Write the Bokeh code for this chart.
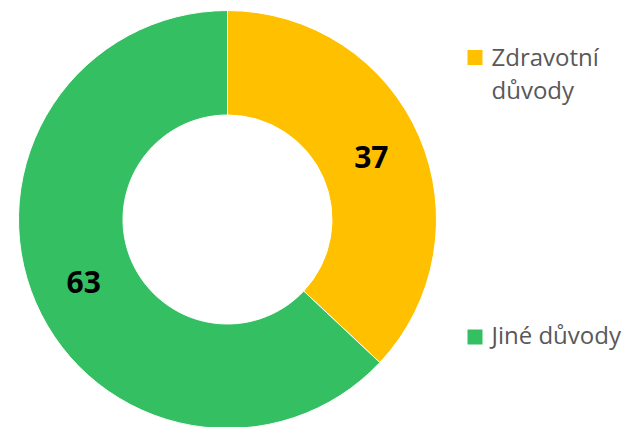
import math
from bokeh.plotting import figure
from bokeh.models import Range1d, ColumnDataSource
from bokeh.core.properties import value
from bokeh.embed import file_html
from bokeh.resources import INLINE

categories = ["Zdravotní důvody", "Jiné důvody"]
values = [37, 63]
colors = ["#FFC000", "#35BF63"]
legend_text = ["Zdravotní\ndůvody", "Jiné důvody"]

W, H = 633, 427
# data coords = screen pixels; y measured upward from bottom
p = figure(width=W, height=H, output_backend="svg", toolbar_location=None,
           x_range=Range1d(0, W), y_range=Range1d(0, H),
           min_border=0, outline_line_color=None)
p.axis.visible = False
p.grid.visible = False
p.background_fill_color = "white"

cx, cy = 227, H - 219
r_out, r_in = 209, 104.5
total = sum(values)
starts, ends, lx, ly = [], [], [], []
a = math.pi / 2
for v in values:
    sweep = 2 * math.pi * v / total
    ends.append(a)
    starts.append(a - sweep)
    mid = a - sweep / 2
    rm = (r_out + r_in) / 2
    lx.append(cx + rm * math.cos(mid))
    ly.append(cy + rm * math.sin(mid))
    a -= sweep

src = ColumnDataSource(dict(cat=categories, val=values, color=colors,
                            start=starts, end=ends, lx=lx, ly=ly,
                            lab=[str(v) for v in values], leg=legend_text,
                            sqx=[474.5, 474.5], sqy=[H - 57, H - 336.5],
                            tx=[491, 491], ty=[H - 39, H - 317]))

p.annular_wedge(x=cx, y=cy, inner_radius=r_in, outer_radius=r_out,
                start_angle="start", end_angle="end", fill_color="color",
                line_color="white", line_width=1, source=src)

p.text(x="lx", y="ly", text="lab", source=src, text_align="center",
       text_baseline="middle", text_font=value("Open Sans"),
       text_font_style="bold", text_font_size="30px", text_color="black")

p.rect(x="sqx", y="sqy", width=15, height=15, fill_color="color",
       line_color=None, source=src)

p.text(x="tx", y="ty", text="leg", source=src, text_align="left",
       text_baseline="top", text_font=value("Open Sans"),
       text_font_size="24px", text_color="#595959", text_line_height=1.0)

open("out.html", "w").write(file_html(p, INLINE))
